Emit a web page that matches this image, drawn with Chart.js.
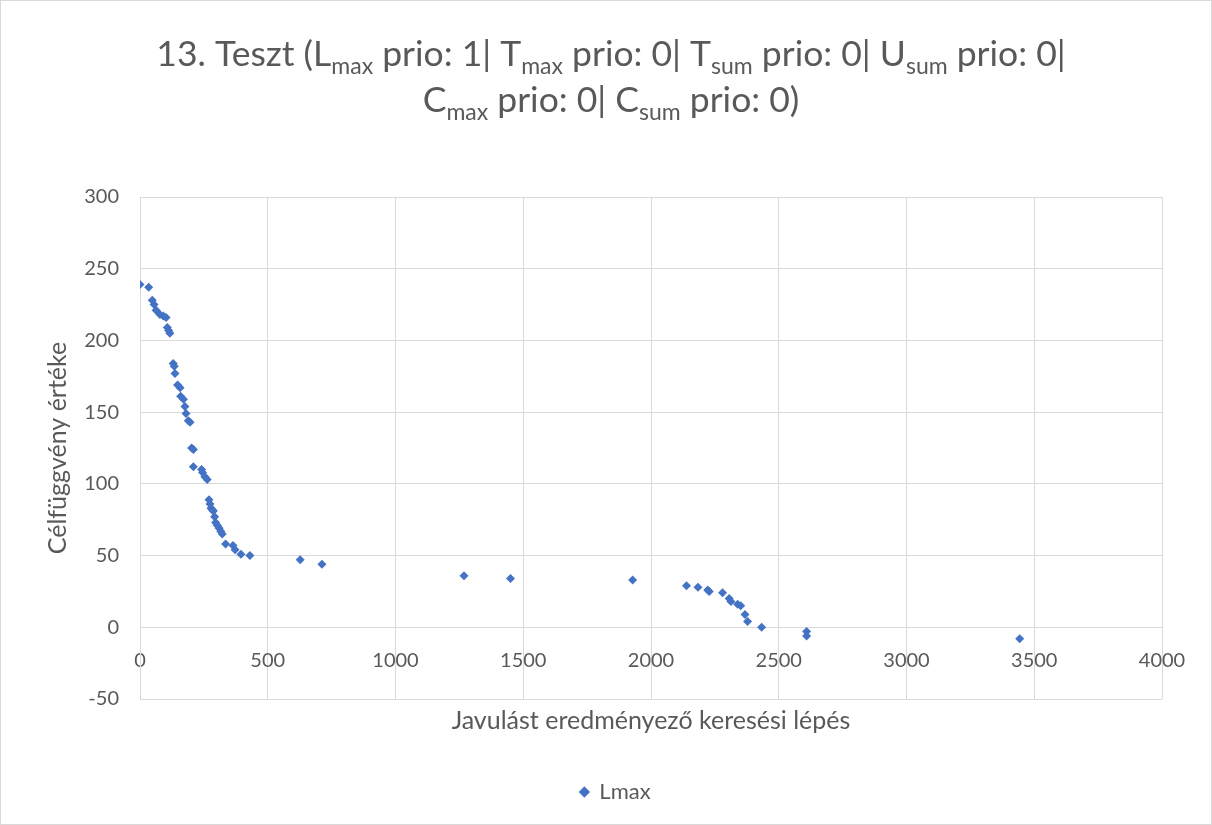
<!DOCTYPE html>
<html>
<head>
<meta charset="utf-8">
<script src="https://cdn.jsdelivr.net/npm/chart.js@4.4.1/dist/chart.umd.min.js"></script>
<style>
  html, body { margin: 0; padding: 0; background: #fff; }
  #wrap { position: absolute; left: 0; top: 0; width: 1210px; height: 823px; border: 1px solid #d9d9d9; }
</style>
</head>
<body>
<div id="wrap"><canvas id="chart" width="1210" height="823"></canvas></div>
<script>
// javulást eredményező lépések (x) és a célfüggvény értéke (y)
const steps = [0, 34, 48, 55, 63, 78, 91, 102, 107, 112, 117, 130, 134, 137, 147, 157, 159, 170, 176, 180,
  189, 196, 202, 209, 209, 241, 245, 254, 263, 270, 274, 278, 283, 287, 292, 296, 303, 310, 316, 322,
  335, 364, 372, 395, 430, 627, 712, 1268, 1450, 1928, 2139, 2184, 2222, 2228, 2280, 2306, 2313, 2339,
  2351, 2368, 2378, 2433, 2609, 2609, 3443];
const lmax = [239, 237, 228, 225, 221, 218, 217, 216, 209, 207, 205, 184, 182, 177, 169, 167, 161, 159, 154, 149,
  144, 143, 125, 124, 112, 110, 108, 105, 103, 89, 86, 83, 82, 81, 77, 73, 71, 69, 67, 65,
  58, 57, 54, 51, 50, 47, 44, 36, 34, 33, 29, 28, 26, 25, 24, 20, 18, 16,
  15, 9, 4, 0, -3, -6, -8];
const seriesName = 'Lmax';

const xTitle = 'Javulást eredményező keresési lépés';
const yTitle = 'Célfüggvény értéke';

// cím darabjai: [szöveg, alsó index?]
const titleLine1 = [['13. Teszt (L', 0], ['max', 1], [' prio: 1| T', 0], ['max', 1], [' prio: 0| T', 0], ['sum', 1],
  [' prio: 0| U', 0], ['sum', 1], [' prio: 0|', 0]];
const titleLine2 = [['C', 0], ['max', 1], [' prio: 0| C', 0], ['sum', 1], [' prio: 0)', 0]];

const grey = '#595959';
const gridGrey = '#d9d9d9';
const blue = '#4472C4';
const fontFam = 'Lato, "Open Sans", sans-serif';

const points = steps.map((s, i) => ({ x: s, y: lmax[i] }));

// kétsoros cím alsó indexekkel
const subTitlePlugin = {
  id: 'subTitle',
  afterDraw(chart) {
    const ctx = chart.ctx;
    const mainFont = '35.5px ' + fontFam;
    const subFont = '23px ' + fontFam;
    ctx.save();
    ctx.fillStyle = grey;
    ctx.textBaseline = 'alphabetic';
    ctx.textAlign = 'left';
    [[titleLine1, 65], [titleLine2, 111]].forEach(([parts, y]) => {
      let w = 0;
      parts.forEach(p => {
        ctx.font = p[1] ? subFont : mainFont;
        w += ctx.measureText(p[0]).width;
      });
      let x = 610 - w / 2;
      parts.forEach(p => {
        ctx.font = p[1] ? subFont : mainFont;
        ctx.fillText(p[0], x, y + (p[1] ? 8 : 0));
        x += ctx.measureText(p[0]).width;
      });
    });
    ctx.restore();
  }
};

// jelmagyarázat kicsit jobbra, mint az eredetin
const legendShift = {
  id: 'legendShift',
  afterLayout(chart) {
    chart.legend.left += 34;
    chart.legend.right += 34;
  }
};

new Chart(document.getElementById('chart').getContext('2d'), {
  type: 'scatter',
  data: {
    datasets: [{
      label: seriesName,
      data: points,
      xAxisID: 'x',
      backgroundColor: blue,
      borderColor: blue,
      pointStyle: 'rectRot',
      pointRadius: 4.5,
      pointHoverRadius: 4.5,
      borderWidth: 0
    }]
  },
  options: {
    responsive: false,
    animation: false,
    layout: { padding: { left: 0, right: 49, top: 196, bottom: 11 } },
    scales: {
      x: {
        type: 'linear',
        position: { y: 0 },
        min: 0,
        max: 4000,
        grid: { color: gridGrey, drawTicks: false },
        border: { color: gridGrey },
        ticks: { stepSize: 500, color: grey, padding: 21, font: { size: 20, family: fontFam }, callback: v => String(v) }
      },
      x2: {
        type: 'linear',
        position: 'bottom',
        min: 0,
        max: 4000,
        grid: { display: false },
        border: { display: false },
        ticks: { display: false },
        title: { display: true, text: xTitle, color: grey, font: { size: 25, family: fontFam }, padding: { top: 25, bottom: 25 } },
        afterFit: s => { s.height = 62; }
      },
      y: {
        min: -50,
        max: 300,
        grid: { color: gridGrey, drawTicks: false },
        border: { color: gridGrey },
        ticks: { stepSize: 50, color: grey, padding: 21, font: { size: 20, family: fontFam } },
        title: { display: true, text: yTitle, color: grey, font: { size: 25, family: fontFam }, padding: { top: 42, bottom: 42 } },
        afterFit: s => { s.width = 139; }
      }
    },
    plugins: {
      legend: {
        position: 'bottom',
        labels: {
          usePointStyle: true,
          pointStyle: 'rectRot',
          boxWidth: 8,
          boxHeight: 8,
          color: grey,
          padding: 20,
          font: { size: 22, family: fontFam }
        }
      },
      tooltip: { enabled: false }
    }
  },
  plugins: [subTitlePlugin, legendShift]
});
</script>
</body>
</html>
